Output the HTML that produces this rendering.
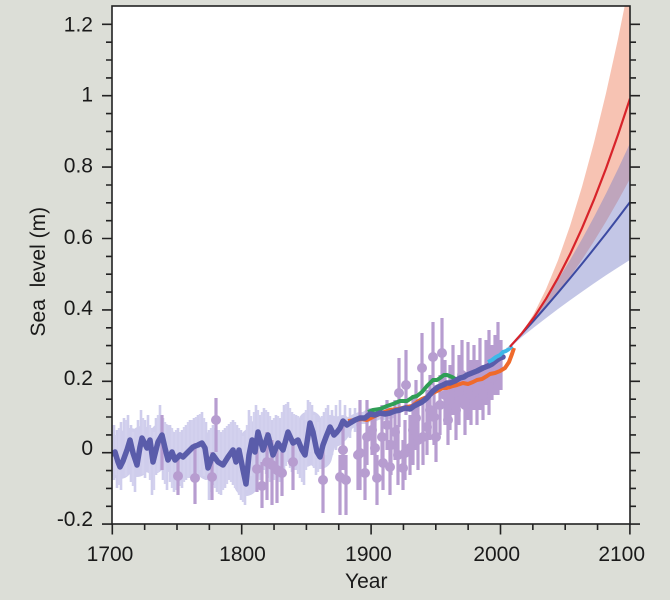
<!DOCTYPE html>
<html><head><meta charset="utf-8"><style>
html,body{margin:0;padding:0;background:#dcded7;width:670px;height:600px;overflow:hidden}
svg{display:block}
</style></head><body>
<svg width="670" height="600" viewBox="0 0 670 600" xmlns="http://www.w3.org/2000/svg" font-family="Liberation Sans, Arial, sans-serif">
<defs><clipPath id="c"><rect x="112" y="6" width="518" height="518"/></clipPath></defs>
<rect x="0" y="0" width="670" height="600" fill="#dcded7"/>
<rect x="112" y="6" width="518" height="518" fill="#fff"/>
<g clip-path="url(#c)">
<!-- uncertainty band of reconstruction -->
<path d="M112,454 L115,452 L118,462 L120,467 L123,461 L127,450 L130,440 L133,453 L137,465 L140,447 L142,438 L147,448 L150,440 L153,462 L158,442 L162,435 L165,448 L168,460 L172,452 L175,460 L180,455 L183,457 L188,452 L193,447 L198,445 L202,443 L205,448 L208,468 L213,455 L218,462 L223,465 L228,457 L233,450 L236,462 L239,450 L243,470 L246,484 L249,455 L252,440 L255,452 L258,432 L263,450 L268,435 L273,455 L278,443 L283,450 L288,432 L293,443 L298,440 L302,450 L305,455 L310,423 L313,432 L317,452 L320,457 L323,445 L326,437 L330,427 L334,435 L337,432 L340,428" fill="none" stroke="#cfcdec" stroke-width="24" stroke-linejoin="round" stroke-linecap="round"/>
<path d="M330,427 L334,435 L337,432 L340,428 L343,421 L347,425 L350,423 L355,420 L360,418 L365,418 L370,414 L375,415 L380,413 L385,414 L390,413" fill="none" stroke="#cfcdec" stroke-width="12" stroke-linejoin="round" stroke-linecap="round"/>
<path d="M114 425V480M117 430V488M121 422V490M124 418V478M128 415V470M131 425V482M135 430V492M138 420V475M141 410V470M145 420V478M148 415V470M152 428V495M156 418V475M160 405V468M163 418V480M167 430V490M170 425V482M174 432V492M178 428V485M182 430V488M186 425V480M190 420V478M194 418V475M198 415V472M202 412V470M206 422V480M209 430V500M213 425V485M217 430V492M221 432V495M225 428V488M229 424V480M233 420V485M237 425V490M241 430V500M245 440V505M249 410V470M252 422V482M256 405V465M260 415V480M264 408V470M268 412V478M272 420V488M276 415V475M280 418V482M284 405V470M288 402V462M292 412V472M296 415V470M300 418V478M304 425V485M308 400V450M312 405V458M316 425V475M320 420V468M324 412V460M328 405V452M332 410V455M336 405V450M340 400V445M345 405V440M350 408V438M355 408V432M360 410V428" stroke="#cfcdec" stroke-width="2.6" fill="none"/>
<path d="M116 435V475M119 428V485M126 420V476M133 432V486M143 418V474M150 425V480M154 432V490M158 415V472M165 422V484M172 428V488M176 430V490M180 432V486M184 427V482M188 422V478M192 420V476M196 417V474M200 414V470M204 418V476M211 428V492M215 428V488M219 430V494M223 430V490M227 426V484M231 422V482M235 422V488M239 428V495M243 436V502M247 425V490M251 416V476M254 412V470M258 410V472M262 412V476M266 410V474M270 416V482M274 418V480M278 416V478M282 412V476M286 404V466M290 408V468M294 414V470M298 416V474M302 420V482M306 410V470M310 402V452M314 415V468M318 422V472M322 416V465M326 408V455" stroke="#d3d1ee" stroke-width="2.4" fill="none"/>
<!-- tide gauge points -->
<g fill="#b79dd0">
<path d="M162 415V470M178 455V495M195 443V504M212 452V500M216 398V452M257 448V492M262 462V508M267 432V500M272 440V505M277 445V503M282 452V496M293 440V490M323 445V513M340 455V515M346 455V515M343 425V470M358 420V490M360 400V490M365 440V500M367 400V465M372 410V455M375 415V480M377 455V505M382 405V465M383 435V490M387 400V450M390 440V495M391 415V475M395 400V460M398 425V485M399 358V427M403 440V490M405 420V480M406 350V415M410 415V475M413 395V465M416 380V450M418 405V470M422 333V393M423 400V465M427 390V455M430 375V440M433 322V385M434 385V445M436 405V462M440 375V435M442 318V385M445 360V425M448 390V445M450 365V430M453 345V415M456 380V440M459 355V425M462 340V405M465 375V435M468 342V420M471 360V425M474 345V410M477 360V425M480 338V410M483 365V420M486 340V405M489 330V415M492 345V400M495 335V395M498 322V395M501 340V390" stroke="#b79dd0" stroke-width="3.2" fill="none"/>
<circle cx="178" cy="476" r="5"/><circle cx="195" cy="478" r="5"/><circle cx="212" cy="477" r="5"/><circle cx="216" cy="420" r="5"/>
<circle cx="257" cy="469" r="5"/><circle cx="262" cy="486" r="5"/><circle cx="267" cy="462" r="5"/><circle cx="272" cy="465" r="5"/>
<circle cx="277" cy="470" r="5"/><circle cx="282" cy="473" r="5"/><circle cx="293" cy="462" r="5"/><circle cx="323" cy="480" r="5"/>
<circle cx="340" cy="477" r="5"/><circle cx="346" cy="480" r="5"/><circle cx="343" cy="450" r="5"/><circle cx="358" cy="455" r="5"/>
<circle cx="360" cy="453" r="5"/><circle cx="365" cy="473" r="5"/><circle cx="367" cy="437" r="5"/><circle cx="372" cy="430" r="5"/>
<circle cx="375" cy="448" r="5"/><circle cx="377" cy="478" r="5"/><circle cx="382" cy="437" r="5"/><circle cx="383" cy="463" r="5"/>
<circle cx="387" cy="425" r="5"/><circle cx="390" cy="467" r="5"/><circle cx="391" cy="445" r="5"/><circle cx="395" cy="432" r="5"/>
<circle cx="398" cy="455" r="5"/><circle cx="399" cy="393" r="5"/><circle cx="403" cy="468" r="5"/><circle cx="405" cy="453" r="5"/>
<circle cx="406" cy="385" r="5"/><circle cx="410" cy="448" r="5"/><circle cx="413" cy="430" r="5"/><circle cx="416" cy="418" r="5"/>
<circle cx="418" cy="440" r="5"/><circle cx="422" cy="368" r="5"/><circle cx="423" cy="437" r="5"/><circle cx="427" cy="427" r="5"/>
<circle cx="430" cy="410" r="5"/><circle cx="433" cy="357" r="5"/><circle cx="434" cy="417" r="5"/><circle cx="436" cy="437" r="5"/>
<circle cx="440" cy="405" r="5"/><circle cx="442" cy="353" r="5"/><circle cx="445" cy="395" r="5"/><circle cx="448" cy="420" r="5"/>
<circle cx="450" cy="400" r="5"/><circle cx="453" cy="385" r="5"/><circle cx="456" cy="410" r="5"/><circle cx="459" cy="392" r="5"/>
<circle cx="462" cy="375" r="5"/><circle cx="465" cy="405" r="5"/><circle cx="468" cy="385" r="5"/><circle cx="471" cy="395" r="5"/>
<circle cx="474" cy="378" r="5"/><circle cx="477" cy="392" r="5"/><circle cx="480" cy="380" r="5"/><circle cx="483" cy="395" r="5"/>
<circle cx="486" cy="375" r="5"/><circle cx="489" cy="385" r="5"/><circle cx="492" cy="378" r="5"/><circle cx="495" cy="370" r="5"/>
</g>
<!-- orange -->
<path d="M348,421 L355,420 L362,419 L367,420 L375,416 L382,413 L390,410 L398,409 L407,407 L412,406 L417,402 L422,399 L427,397 L433,393 L437,391 L443,388 L447,388 L453,386 L457,385 L463,383 L468,384 L473,382 L477,380 L482,379 L487,376 L490,374 L495,373 L500,371 L505,368 L509,362 L512,354 L514,348" fill="none" stroke="#ef6a2c" stroke-width="4" stroke-linejoin="round"/>
<!-- green -->
<path d="M368,412 L373,410 L380,409 L387,406 L393,404 L400,401 L407,401 L413,397 L417,396 L422,392 L427,386 L433,380 L437,380 L440,378 L444,375 L447,375 L452,377 L457,380 L462,377 L467,375 L472,373 L477,371 L483,368 L488,366 L492,364 L497,360" fill="none" stroke="#2f9e55" stroke-width="4" stroke-linejoin="round"/>
<!-- reconstruction line -->
<path d="M112,454 L115,452 L118,462 L120,467 L123,461 L127,450 L130,440 L133,453 L137,465 L140,447 L142,438 L147,448 L150,440 L153,462 L158,442 L162,435 L165,448 L168,460 L172,452 L175,460 L180,455 L183,457 L188,452 L193,447 L198,445 L202,443 L205,448 L208,468 L213,455 L218,462 L223,465 L228,457 L233,450 L236,462 L239,450 L243,470 L246,484 L249,455 L252,440 L255,452 L258,432 L263,450 L268,435 L273,455 L278,443 L283,450 L288,432 L293,443 L298,440 L302,450 L305,455 L310,423 L313,432 L317,452 L320,457 L323,445 L326,437 L330,427 L334,435 L337,432 L340,428 L343,421 L347,425 L350,423 L355,420 L360,418 L365,418 L370,414 L375,415 L380,413 L385,414 L390,413 L395,411 L400,410 L405,408 L410,409 L414,406 L418,404 L422,402 L427,398 L433,391 L438,387 L443,385 L447,383 L450,383 L455,381 L460,378 L464,377 L467,375 L472,373 L477,371 L483,368 L488,366 L492,364 L497,360 L500,358 L503,357" fill="none" stroke="#5a5caa" stroke-width="5.5" stroke-linejoin="round" stroke-linecap="round"/>
<!-- cyan -->
<path d="M488,362 L492,360 L496,357 L500,355 L503,352 L506,351 L509,349 L512,346" fill="none" stroke="#3db8e8" stroke-width="4" stroke-linejoin="round"/>
<!-- projections -->
<path d="M506,348 L510,346.7 L522,332.6 L534,313.5 L546,289.3 L558,260.2 L570,226.0 L582,186.8 L594,142.5 L606,93.3 L618,39.0 L630,-20.3 L630,178.9 L618,200.8 L606,221.6 L594,241.2 L582,259.7 L570,277.1 L558,293.3 L546,308.3 L534,322.3 L522,335.0 L510,347.5 Z" fill="#f7c3b3"/>
<path d="M506,348 L510,346.7 L522,331.8 L534,315.7 L546,298.4 L558,279.8 L570,260.1 L582,239.1 L594,217.0 L606,193.6 L618,169.0 L630,143.2 L630,259.9 L618,267.5 L606,275.3 L594,283.4 L582,291.7 L570,300.3 L558,309.0 L546,318.1 L534,327.4 L522,336.9 L510,347.5 Z" fill="#7a80c7" fill-opacity="0.45"/>
<path d="M510,346.7 L522,333.6 L534,320.3 L546,306.7 L558,292.7 L570,278.4 L582,263.8 L594,248.8 L606,233.6 L618,218.0 L630,202.1" fill="none" stroke="#3c4aa2" stroke-width="2" stroke-linejoin="round"/>
<path d="M510,346.7 L522,333.2 L534,317.3 L546,298.8 L558,277.8 L570,254.3 L582,228.2 L594,199.6 L606,168.5 L618,134.8 L630,98.6" fill="none" stroke="#d8232a" stroke-width="2.2" stroke-linejoin="round"/>
</g>
<!-- frame -->
<rect x="112" y="6" width="518" height="518" fill="none" stroke="#222" stroke-width="1.6"/>
<g stroke="#222" stroke-width="1.6" fill="none">
<path d="M102 524.1H112M102 452.7H112M102 381.3H112M102 309.9H112M102 238.5H112M102 167.1H112M102 95.7H112M102 24.3H112"/>
<path d="M106 506.3H112M106 488.4H112M106 470.6H112M106 434.9H112M106 417H112M106 399.2H112M106 363.5H112M106 345.6H112M106 327.8H112M106 292.1H112M106 274.2H112M106 256.4H112M106 220.7H112M106 202.8H112M106 185H112M106 149.3H112M106 131.4H112M106 113.6H112M106 77.9H112M106 60H112M106 42.2H112"/>
<path d="M630 524.1H640M630 452.7H640M630 381.3H640M630 309.9H640M630 238.5H640M630 167.1H640M630 95.7H640M630 24.3H640"/>
<path d="M630 506.3H636M630 488.4H636M630 470.6H636M630 434.9H636M630 417H636M630 399.2H636M630 363.5H636M630 345.6H636M630 327.8H636M630 292.1H636M630 274.2H636M630 256.4H636M630 220.7H636M630 202.8H636M630 185H636M630 149.3H636M630 131.4H636M630 113.6H636M630 77.9H636M630 60H636M630 42.2H636"/>
<path d="M112.3 524V534.5M241.7 524V534.5M371.1 524V534.5M500.5 524V534.5M629.9 524V534.5"/>
<path d="M144.65 524V530M177 524V530M209.35 524V530M274.05 524V530M306.4 524V530M338.75 524V530M403.45 524V530M435.8 524V530M468.15 524V530M532.85 524V530M565.2 524V530M597.55 524V530"/>
</g>
<g fill="#1a1a1a" font-size="21" text-anchor="end">
<text x="93" y="31.7">1.2</text>
<text x="93" y="101.7">1</text>
<text x="93" y="172.7">0.8</text>
<text x="93" y="244">0.6</text>
<text x="93" y="315">0.4</text>
<text x="93" y="385">0.2</text>
<text x="93" y="455">0</text>
<text x="93" y="526">-0.2</text>
</g>
<g fill="#1a1a1a" font-size="21" text-anchor="middle">
<text x="110" y="561">1700</text>
<text x="242.5" y="561">1800</text>
<text x="368.5" y="561">1900</text>
<text x="496.7" y="561">2000</text>
<text x="621.7" y="561">2100</text>
</g>
<text x="345" y="588" fill="#1a1a1a" font-size="21">Year</text>
<text transform="translate(45,271.7) rotate(-90)" fill="#1a1a1a" font-size="21" text-anchor="middle">Sea&#160; level (m)</text>
</svg>
</body></html>
